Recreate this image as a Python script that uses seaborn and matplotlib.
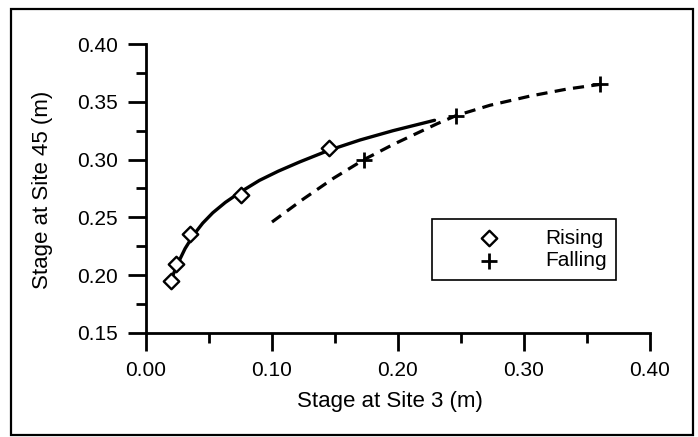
import matplotlib
matplotlib.use("Agg")
import matplotlib.pyplot as plt
import seaborn as sns
import pandas as pd
from matplotlib.patches import Rectangle
from matplotlib.ticker import MultipleLocator, FixedLocator, FormatStrFormatter

# ---- data ----
rising_x = [0.020, 0.024, 0.035, 0.075, 0.145]
rising_y = [0.195, 0.210, 0.236, 0.269, 0.310]
falling_x = [0.173, 0.246, 0.360]
falling_y = [0.300, 0.338, 0.365]

# fitted curves
rising_curve_x = [0.021, 0.024, 0.027, 0.031, 0.035, 0.040, 0.045, 0.053, 0.063, 0.075,
                  0.090, 0.105, 0.122, 0.145, 0.170, 0.196, 0.229]
rising_curve_y = [0.199, 0.207, 0.214, 0.223, 0.230, 0.238, 0.245, 0.254, 0.263, 0.272,
                  0.282, 0.290, 0.298, 0.308, 0.317, 0.325, 0.334]
falling_curve_x = [0.100, 0.125, 0.149, 0.173, 0.196, 0.231, 0.246, 0.273, 0.305, 0.334, 0.360]
falling_curve_y = [0.246, 0.266, 0.284, 0.300, 0.313, 0.331, 0.338, 0.347, 0.355, 0.361, 0.365]

x_ticks = [0.00, 0.10, 0.20, 0.30, 0.40]
y_ticks = [0.15, 0.20, 0.25, 0.30, 0.35, 0.40]
x_label = "Stage at Site 3 (m)"
y_label = "Stage at Site 45 (m)"
series_labels = ["Rising", "Falling"]

# ---- style ----
sns.set_style("ticks")
plt.rcParams["font.family"] = ["Liberation Sans", "DejaVu Sans"]
plt.rcParams["text.color"] = "black"
plt.rcParams["axes.labelcolor"] = "black"
plt.rcParams["xtick.color"] = "black"
plt.rcParams["ytick.color"] = "black"

fig = plt.figure(figsize=(6.98, 4.37), dpi=100)
ax = fig.add_axes([146 / 698, 1 - 333 / 437, (650 - 146) / 698, (333 - 44) / 437])

rise_curve = pd.DataFrame({"x": rising_curve_x, "y": rising_curve_y})
fall_curve = pd.DataFrame({"x": falling_curve_x, "y": falling_curve_y})
rise_pts = pd.DataFrame({"x": rising_x, "y": rising_y})
fall_pts = pd.DataFrame({"x": falling_x, "y": falling_y})

sns.lineplot(data=rise_curve, x="x", y="y", ax=ax, color="black", linewidth=2.4,
             sort=False, estimator=None)
sns.lineplot(data=fall_curve, x="x", y="y", ax=ax, color="black", linewidth=2.3,
             linestyle=(0, (3.5, 2.3)), sort=False, estimator=None)
sns.scatterplot(data=rise_pts, x="x", y="y", ax=ax, marker="D", s=62,
                facecolor="white", edgecolor="black", linewidth=1.7,
                label=series_labels[0], zorder=5)
sns.scatterplot(data=fall_pts, x="x", y="y", ax=ax, marker="+", s=125,
                color="black", linewidth=2.0, label=series_labels[1], zorder=5)

ax.set_xlim(0.0, 0.40)
ax.set_ylim(0.15, 0.40)
ax.xaxis.set_major_locator(FixedLocator(x_ticks))
ax.yaxis.set_major_locator(FixedLocator(y_ticks))
ax.xaxis.set_minor_locator(MultipleLocator(0.05))
ax.yaxis.set_minor_locator(MultipleLocator(0.025))
ax.xaxis.set_major_formatter(FormatStrFormatter("%.2f"))
ax.yaxis.set_major_formatter(FormatStrFormatter("%.2f"))

for side in ["top", "right"]:
    ax.spines[side].set_visible(False)
for side in ["left", "bottom"]:
    ax.spines[side].set_linewidth(2.0)
    ax.spines[side].set_color("black")

ax.tick_params(which="major", direction="out", length=13, width=2.0, labelsize=15, pad=7)
ax.tick_params(which="minor", direction="out", length=7, width=2.0)

ax.set_xlabel(x_label, fontsize=16)
ax.set_ylabel(y_label, fontsize=16)
ax.xaxis.set_label_coords(0.484, -0.200)
ax.yaxis.set_label_coords(-0.185, 0.495)

leg = ax.legend(loc="upper left", bbox_to_anchor=(0.567, 0.394), borderaxespad=0,
                fontsize=15, frameon=True, fancybox=False, borderpad=0.45,
                handlelength=4.58, handletextpad=0.40, labelspacing=0.19,
                scatterpoints=1, markerfirst=True)
frame = leg.get_frame()
frame.set_edgecolor("black")
frame.set_linewidth(1.2)
frame.set_alpha(1)

# figure border
fig.patches.append(Rectangle((11 / 698, 1 - 435 / 437), (693 - 11) / 698, (435 - 9) / 437,
                             transform=fig.transFigure, fill=False, edgecolor="black",
                             linewidth=1.6, zorder=10))

fig.savefig("out.png", dpi=100)
